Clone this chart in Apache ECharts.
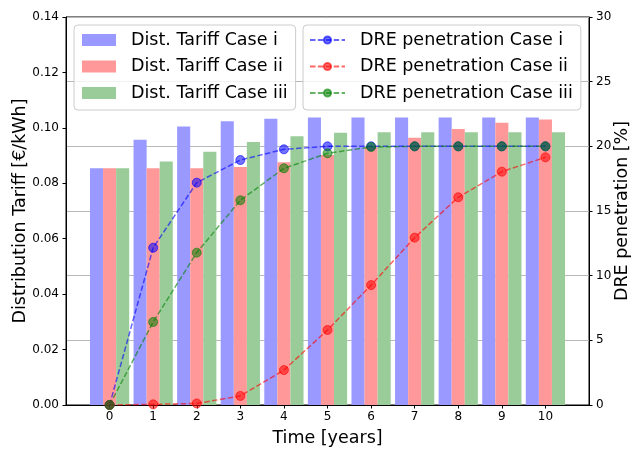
<!DOCTYPE html>
<html>
<head>
<meta charset="utf-8">
<script src="https://cdn.jsdelivr.net/npm/echarts@6/dist/echarts.min.js"></script>
<style>html,body{margin:0;padding:0;background:#fff;}#c{width:632px;height:449px;}</style>
</head>
<body>
<div id="c"></div>
<script>
const years = [0, 1, 2, 3, 4, 5, 6, 7, 8, 9, 10];
const xTicks = [0, 1, 2, 3, 4, 5, 6, 7, 8, 9, 10];
const tariffI   = [0.0854, 0.0957, 0.1005, 0.1024, 0.1033, 0.1037, 0.1037, 0.1037, 0.1037, 0.1037, 0.1037];
const tariffII  = [0.0854, 0.0854, 0.0854, 0.0859, 0.0876, 0.0902, 0.0932, 0.0964, 0.0996, 0.1018, 0.1030];
const tariffIII = [0.0854, 0.0879, 0.0914, 0.0949, 0.0970, 0.0982, 0.0984, 0.0984, 0.0984, 0.0984, 0.0984];
const dreI   = [0, 12.16, 17.19, 18.94, 19.77, 20.0, 20.0, 20.0, 20.0, 20.0, 20.0];
const dreII  = [0, 0.05, 0.12, 0.7, 2.7, 5.8, 9.27, 12.94, 16.06, 18.04, 19.15];
const dreIII = [0, 6.42, 11.78, 15.83, 18.3, 19.46, 19.95, 20.0, 20.0, 20.0, 20.0];
const leftTicks = [0, 0.02, 0.04, 0.06, 0.08, 0.10, 0.12, 0.14];
const rightTicks = [0, 5, 10, 15, 20, 25, 30];

const FONT = 'DejaVu Sans';
const BAR_W = 0.3;

function barSeries(name, values, offset, color) {
  return {
    name: name,
    type: 'custom',
    xAxisIndex: 0,
    yAxisIndex: 0,
    itemStyle: { color: color },
    encode: { x: 0, y: 1 },
    data: years.map((x, i) => [x + offset, values[i]]),
    renderItem: function (params, api) {
      const x = api.value(0), y = api.value(1);
      const p0 = api.coord([x - BAR_W / 2, y]);
      const p1 = api.coord([x + BAR_W / 2, 0]);
      return {
        type: 'rect',
        shape: { x: p0[0], y: p0[1], width: p1[0] - p0[0], height: p1[1] - p0[1] },
        style: { fill: color }
      };
    },
    z: 2
  };
}

function lineSeries(name, values, rgb) {
  return {
    name: name,
    type: 'line',
    xAxisIndex: 0,
    yAxisIndex: 1,
    data: years.map((x, i) => [x, values[i]]),
    symbol: 'circle',
    symbolSize: 9,
    showSymbol: true,
    itemStyle: { color: 'rgba(' + rgb + ',0.55)', borderColor: 'rgba(' + rgb + ',0.6)', borderWidth: 1 },
    lineStyle: { color: 'rgba(' + rgb + ',0.6)', width: 1.5, type: [5.5, 2.4] },
    emphasis: { disabled: true },
    animation: false,
    z: 5
  };
}

const chart = echarts.init(document.getElementById('c'), null, { renderer: 'canvas' });
chart.setOption({
  animation: false,
  backgroundColor: '#ffffff',
  grid: { left: 66, right: 43, top: 17, bottom: 44, outerBoundsMode: 'none', containLabel: false, show: true, borderColor: '#000', borderWidth: 1, backgroundColor: 'transparent' },
  legend: [
    {
      data: [
        { name: 'Dist. Tariff Case i', icon: 'rect' },
        { name: 'Dist. Tariff Case ii', icon: 'rect' },
        { name: 'Dist. Tariff Case iii', icon: 'rect' }
      ],
      orient: 'vertical', left: 74, top: 25,
      itemWidth: 34, itemHeight: 12, itemGap: 8.5,
      padding: [6, 8, 8, 8],
      backgroundColor: 'rgba(255,255,255,0.8)', borderColor: '#cccccc', borderWidth: 1, borderRadius: 4,
      selectedMode: false,
      textStyle: { fontFamily: FONT, fontSize: 17.5, color: '#000', lineHeight: 18, padding: [0, 0, 0, 10] }
    },
    {
      data: ['DRE penetration Case i', 'DRE penetration Case ii', 'DRE penetration Case iii'],
      orient: 'vertical', left: 303, top: 25,
      itemWidth: 35, itemHeight: 9, itemGap: 8.5,
      padding: [6, 8, 8, 6],
      backgroundColor: 'rgba(255,255,255,0.8)', borderColor: '#cccccc', borderWidth: 1, borderRadius: 4,
      selectedMode: false,
      textStyle: { fontFamily: FONT, fontSize: 17.5, color: '#000', lineHeight: 18, padding: [0, 0, 0, 10] }
    }
  ],
  xAxis: [{
    type: 'value', min: -1, max: 11, interval: 1,
    name: 'Time [years]', nameLocation: 'middle', nameGap: 24, nameMoveOverlap: false,
    nameTextStyle: { fontFamily: FONT, fontSize: 17.5, color: '#000' },
    axisLine: { show: true, onZero: false, lineStyle: { color: '#000', width: 1 } },
    axisTick: { show: true, length: 3.5, lineStyle: { color: '#000' }, customValues: xTicks },
    axisLabel: { fontFamily: FONT, fontSize: 12, color: '#000', margin: 6, customValues: xTicks },
    splitLine: { show: false }
  }],
  yAxis: [
    {
      type: 'value', min: 0, max: 0.14, interval: 0.02, position: 'left',
      name: 'Distribution Tariff [€/kWh]', nameLocation: 'middle', nameGap: 37, nameRotate: 90, nameMoveOverlap: false,
      nameTextStyle: { fontFamily: FONT, fontSize: 17.5, color: '#000' },
      axisLine: { show: true, onZero: false, lineStyle: { color: '#000', width: 1 } },
      axisTick: { show: true, length: 3.5, lineStyle: { color: '#000' } },
      axisLabel: { fontFamily: FONT, fontSize: 12, color: '#000', margin: 7, formatter: v => v.toFixed(2) },
      splitLine: { show: false }
    },
    {
      type: 'value', min: 0, max: 30, interval: 5, position: 'right',
      name: 'DRE penetration [%]', nameLocation: 'middle', nameGap: 24, nameRotate: 90, nameMoveOverlap: false,
      nameTextStyle: { fontFamily: FONT, fontSize: 17.5, color: '#000' },
      axisLine: { show: true, onZero: false, lineStyle: { color: '#000', width: 1 } },
      axisTick: { show: true, length: 3.5, lineStyle: { color: '#000' } },
      axisLabel: { fontFamily: FONT, fontSize: 12, color: '#000', margin: 7 },
      splitLine: { show: true, lineStyle: { color: '#b8b8b8', width: 1 } }
    }
  ],
  series: [
    barSeries('Dist. Tariff Case i', tariffI, -0.3, '#9999ff'),
    barSeries('Dist. Tariff Case ii', tariffII, 0, '#ff9999'),
    barSeries('Dist. Tariff Case iii', tariffIII, 0.3, '#99cc99'),
    lineSeries('DRE penetration Case i', dreI, '0,0,255'),
    lineSeries('DRE penetration Case ii', dreII, '255,0,0'),
    lineSeries('DRE penetration Case iii', dreIII, '0,128,0')
  ]
});
</script>
</body>
</html>
